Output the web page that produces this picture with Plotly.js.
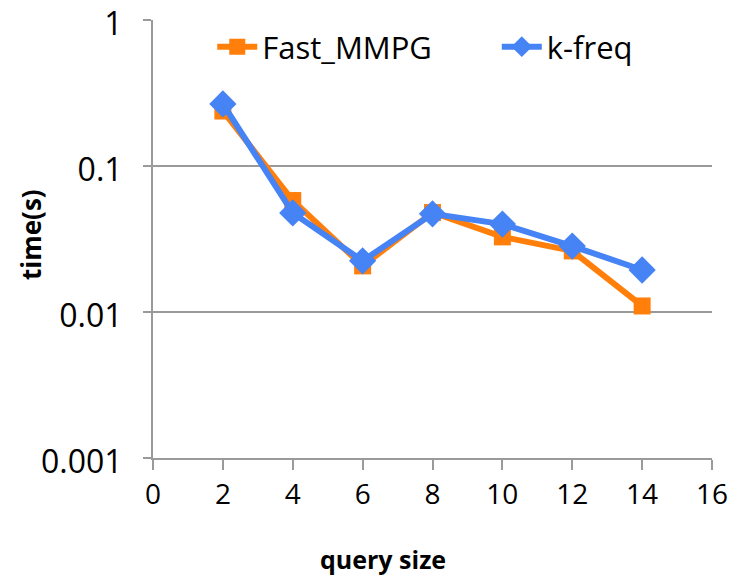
<!DOCTYPE html>
<html>
<head>
<meta charset="utf-8">
<script src="https://cdn.plot.ly/plotly-3.0.1.min.js"></script>
<style>html,body{margin:0;padding:0;background:#fff;}#chart{width:735px;height:578px;}</style>
</head>
<body>
<div id="chart"></div>
<script>
const querySize = [2, 4, 6, 8, 10, 12, 14];
const fastMMPG = [0.238, 0.058, 0.0207, 0.048, 0.0327, 0.0262, 0.011];
const kFreq = [0.266, 0.0477, 0.0224, 0.047, 0.040, 0.0283, 0.0194];
const yTickVals = [0.001, 0.01, 0.1, 1];
const yTickText = ["0.001", "0.01", "0.1", "1"];
const xTickVals = [0, 2, 4, 6, 8, 10, 12, 14, 16];
const xTitle = "query size";
const yTitle = "time(s)";

const traces = [
  {
    x: querySize, y: fastMMPG, name: "Fast_MMPG", type: "scatter", mode: "lines+markers",
    line: {color: "#FF7F0A", width: 6},
    marker: {symbol: "square", size: 17, color: "#FF7F0A"},
    legend: "legend"
  },
  {
    x: querySize, y: kFreq, name: "k-freq", type: "scatter", mode: "lines+markers",
    line: {color: "#4683F5", width: 6},
    marker: {symbol: "diamond", size: 21, color: "#4683F5"},
    legend: "legend2"
  }
];

const titleFont = {family: "Open Sans, sans-serif", size: 25, color: "#000", weight: "bold"};
const legendFont = {family: "Open Sans, sans-serif", size: 31, color: "#000"};

const layout = {
  width: 735, height: 578,
  margin: {l: 153, r: 23, t: 20, b: 120},
  paper_bgcolor: "#fff", plot_bgcolor: "#fff",
  font: {family: "Open Sans, sans-serif", size: 28, color: "#000"},
  showlegend: true,
  legend: {
    orientation: "h", x: 0.106, y: 1.0, xanchor: "left", yanchor: "top",
    font: legendFont, bgcolor: "rgba(0,0,0,0)", itemwidth: 40
  },
  legend2: {
    orientation: "h", x: 0.615, y: 1.0, xanchor: "left", yanchor: "top",
    font: legendFont, bgcolor: "rgba(0,0,0,0)", itemwidth: 40
  },
  xaxis: {
    range: [0, 16], tickvals: xTickVals, ticktext: xTickVals.map(String),
    showgrid: false, zeroline: false, showline: true, linecolor: "#9a9a9a", linewidth: 2,
    ticks: "outside", ticklen: 10, tickwidth: 2, tickcolor: "#9a9a9a",
    tickfont: {family: "Open Sans, sans-serif", size: 28, color: "#000"}
  },
  yaxis: {
    type: "log", range: [-3, 0], tickvals: yTickVals, ticktext: yTickText,
    showgrid: true, gridcolor: "#9a9a9a", gridwidth: 2, zeroline: false,
    showline: true, linecolor: "#9a9a9a", linewidth: 2,
    ticks: "outside", ticklen: 8, tickwidth: 2, tickcolor: "#9a9a9a",
    ticklabelstandoff: 14, ticklabeloverflow: "allow", ticklabelshift: 4,
    tickfont: {family: "Open Sans, sans-serif", size: 32, color: "#000"}
  },
  annotations: [
    {text: xTitle, xref: "paper", yref: "paper", x: (383 - 153) / 559, y: (458 - 578) / 438,
     xanchor: "center", yanchor: "bottom", showarrow: false, font: titleFont},
    {text: yTitle, xref: "paper", yref: "paper", x: (31 - 153) / 559, y: (458 - 235) / 438,
     xanchor: "center", yanchor: "middle", showarrow: false, textangle: -90,
     font: Object.assign({}, titleFont, {size: 26})}
  ]
};

Plotly.newPlot("chart", traces, layout, {displayModeBar: false, staticPlot: true});
</script>
</body>
</html>
